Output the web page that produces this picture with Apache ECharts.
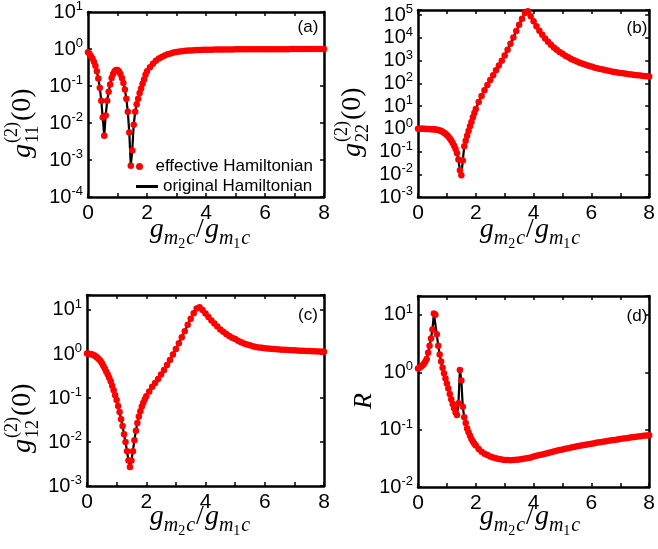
<!DOCTYPE html>
<html><head><meta charset="utf-8">
<script src="https://cdn.jsdelivr.net/npm/echarts@6/dist/echarts.min.js"></script>
<style>html,body{margin:0;padding:0;background:#fff}#c{width:658px;height:549px}</style>
</head><body><div id="c"></div>
<script>
// ---- data ----
const X = [0,0.05,0.1,0.15,0.2,0.25,0.3,0.35,0.4,0.45,0.5,0.55,0.6,0.65,0.7,0.75,0.8,0.85,0.9,0.95,
1.0,1.05,1.1,1.15,1.2,1.25,1.3,1.35,1.4,1.45,1.5,1.55,1.6,1.65,1.7,1.75,1.8,1.85,1.9,1.95,2.0,
2.1,2.2,2.3,2.4,2.5,2.6,2.7,2.8,2.9,3.0,3.1,3.2,3.3,3.4,3.5,3.6,3.7,3.8,3.9,4.0,
4.1,4.2,4.3,4.4,4.5,4.6,4.7,4.8,4.9,5.0,5.1,5.2,5.3,5.4,5.5,5.6,5.7,5.8,5.9,6.0,
6.1,6.2,6.3,6.4,6.5,6.6,6.7,6.8,6.9,7.0,7.1,7.2,7.3,7.4,7.5,7.6,7.7,7.8,7.9,8.0];

const G11 = [0.82,0.74,0.64,0.55,0.45,0.35,0.25,0.16,0.09,0.04,0.014,0.0045,0.016,0.04,0.07,0.11,0.165,0.21,0.25,0.27,
0.27,0.245,0.21,0.165,0.12,0.08,0.045,0.02,0.0055,0.0007,0.0018,0.009,0.02,0.032,0.045,0.065,0.085,0.115,0.15,0.2,0.25,
0.32,0.4,0.48,0.55,0.61,0.67,0.72,0.76,0.8,0.83,0.855,0.875,0.89,0.905,0.915,0.925,0.935,0.94,0.95,0.955,
0.958,0.961,0.964,0.966,0.968,0.97,0.972,0.974,0.976,0.977,0.978,0.98,0.981,0.982,0.983,0.984,0.985,0.986,0.987,0.988,
0.988,0.989,0.99,0.99,0.991,0.991,0.992,0.992,0.993,0.993,0.994,0.994,0.994,0.995,0.995,0.995,0.996,0.996,0.996,0.997];

const G22 = [1.0,1.0,1.0,1.0,1.0,0.995,0.99,0.985,0.98,0.97,0.96,0.95,0.93,0.91,0.88,0.85,0.8,0.75,0.68,0.61,
0.53,0.46,0.38,0.31,0.24,0.18,0.13,0.085,0.045,0.015,0.009,0.04,0.17,0.3,0.5,0.8,1.3,2.0,3.2,5.0,7.5,
15,28,50,85,140,230,380,620,1000,1700,3000,5500,10500,20000,38000,70000,125000,150000,90000,55000,
33000,21000,14000,9500,6800,5000,3800,3000,2400,2000,1650,1400,1200,1050,920,820,730,660,600,550,
505,470,435,405,380,357,337,320,304,290,277,265,254,244,235,227,220,213,207,201];

const G12 = [1.02,1.01,1.0,0.98,0.96,0.92,0.88,0.82,0.76,0.7,0.62,0.54,0.47,0.4,0.34,0.29,0.24,0.19,0.15,0.115,
0.09,0.066,0.048,0.033,0.023,0.015,0.01,0.0062,0.0038,0.0027,0.0038,0.0062,0.011,0.018,0.027,0.038,0.05,0.064,0.078,0.094,0.11,
0.14,0.18,0.22,0.27,0.34,0.43,0.56,0.73,0.97,1.3,1.75,2.4,3.3,4.6,6.3,8.4,10.8,11.6,10.0,8.3,
6.9,5.8,4.9,4.2,3.6,3.2,2.85,2.55,2.35,2.2,2.0,1.85,1.74,1.65,1.57,1.5,1.45,1.41,1.38,1.35,
1.33,1.31,1.29,1.28,1.26,1.25,1.24,1.23,1.22,1.21,1.2,1.19,1.18,1.17,1.165,1.16,1.15,1.145,1.14,1.13];

const RR = [1.17,1.2,1.25,1.31,1.4,1.52,1.7,2.2,2.9,3.9,5.6,10.6,10.1,4.6,2.9,2.05,1.55,1.2,0.96,0.78,
0.64,0.52,0.42,0.34,0.28,0.235,0.2,0.18,0.29,1.1,0.72,0.25,0.165,0.13,0.105,0.09,0.078,0.069,0.062,0.057,0.053,
0.046,0.041,0.038,0.036,0.034,0.0327,0.0316,0.0307,0.0301,0.0297,0.0295,0.0294,0.0295,0.0298,0.0302,0.0307,0.0313,0.0319,0.0327,0.034,
0.035,0.036,0.037,0.038,0.039,0.0403,0.0415,0.0427,0.044,0.0452,0.0464,0.0476,0.0488,0.05,0.0512,0.0524,0.0536,0.0548,0.0559,0.057,
0.0582,0.0594,0.0605,0.0617,0.0628,0.064,0.0651,0.0663,0.0675,0.0687,0.0698,0.071,0.0722,0.0734,0.0745,0.0757,0.0769,0.078,0.0791,0.0802];

const X_LABELS = [0,2,4,6,8];
const PANEL_TAGS = ['(a)','(b)','(c)','(d)'];
const Y_RANGES = [[1e-4,10],[1e-3,1.7e5],[1e-3,21.9],[1e-2,21.4]];
const LEGEND_NAMES = ['effective Hamiltonian','original Hamiltonian'];

// ---- layout ----
const GRIDS = [
  {left:88, top:10, width:236, height:187},
  {left:418, top:10, width:236, height:187},
  {left:87, top:295, width:237, height:191},
  {left:418, top:296, width:236, height:191}
];
const SERIES_DATA = [G11, G22, G12, RR];

const chart = echarts.init(document.getElementById('c'), null, {renderer:'canvas'});
const SANS = '"Liberation Sans", Arial, sans-serif';
const SERIF = '"Liberation Serif", "Times New Roman", serif';

const ctx = document.createElement('canvas').getContext('2d');
function tw(t, size, it){ ctx.font = (it?'italic ':'') + size + 'px ' + SERIF; return ctx.measureText(t).width; }

function mathLabel(segs, x0, y0, rot, center){
  let cur = 0; const kids = [];
  segs.forEach(seg => {
    const grp = Array.isArray(seg) ? seg : [seg];
    let w = 0;
    grp.forEach(p => {
      const dx = p.dx || 0;
      kids.push({type:'text', x: cur + dx, y: p.dy || 0, silent:true,
        style:{text:p.t, fontSize:p.s, fontFamily:SERIF, fontStyle:p.it?'italic':'normal', fill:'#000',
               align:'left', verticalAlign:'middle', textAlign:'left', textVerticalAlign:'middle'}});
      w = Math.max(w, dx + tw(p.t, p.s, p.it));
    });
    cur += w;
  });
  if (center) kids.forEach(k => { k.x -= cur/2; });
  return {type:'group', x:x0, y:y0, rotation:rot, children:kids};
}

const xTitle = [
  {t:'g',s:28,it:true},{t:'m',s:20,it:true,dy:9},{t:'2',s:14,dy:14},{t:'c',s:20,it:true,dy:9,dx:1},
  {t:'/',s:28,dx:1},
  {t:'g',s:28,it:true,dx:1},{t:'m',s:20,it:true,dy:9},{t:'1',s:14,dy:14},{t:'c',s:20,it:true,dy:9,dx:1}
];
function gTitle(sub){
  return [{t:'g',s:28,it:true},[{t:'(2)',s:18,dy:-10.5,dx:1},{t:sub,s:18,dy:10,dx:1}],{t:'(0)',s:28,dx:1}];
}

const xAxes = [], yAxes = [], series = [];
const axisLineStyle = {color:'#000', width:2.5};
const tickCfg = {show:true, inside:true, length:4, lineStyle:{color:'#000', width:1.5}};
GRIDS.forEach((g, i) => {
  const base = {type:'value', gridIndex:i, min:0, max:8, interval:1,
    axisLine:{show:true, onZero:false, lineStyle:axisLineStyle}, axisTick:tickCfg, splitLine:{show:false}};
  xAxes.push(Object.assign({}, base, {position:'bottom',
    axisLabel:{show:true, margin:6, color:'#000', fontSize:21, fontFamily:SANS,
      formatter: v => X_LABELS.indexOf(v) >= 0 ? String(v) : ''}}));
  xAxes.push(Object.assign({}, base, {position:'top', axisLabel:{show:false}}));
  const yb = {type:'log', logBase:10, gridIndex:i, min:Y_RANGES[i][0], max:Y_RANGES[i][1],
    axisLine:{show:true, onZero:false, lineStyle:axisLineStyle}, axisTick:tickCfg, splitLine:{show:false}, minorTick:{show:false}};
  yAxes.push(Object.assign({}, yb, {position:'left',
    axisLabel:{show:true, margin:5, showMaxLabel:true,
      formatter: v => { const e = Math.log10(v); if (Math.abs(e - Math.round(e)) > 1e-6) return ''; return '{b|10}{s|' + Math.round(e) + '}'; },
      rich:{ b:{fontSize:20, fontFamily:SANS, color:'#000', lineHeight:24}, s:{fontSize:13, fontFamily:SANS, color:'#000', verticalAlign:'top', lineHeight:14} }}}));
  yAxes.push(Object.assign({}, yb, {position:'right', axisLabel:{show:false}}));
  const vals = SERIES_DATA[i];
  const pts = X.map((x, k) => [x, vals[k]]);
  series.push({type:'line', name:LEGEND_NAMES[1], xAxisIndex:2*i, yAxisIndex:2*i, data:pts, showSymbol:false, symbol:'none',
    lineStyle:{color:'#000', width:2.2}, itemStyle:{color:'#000'}, z:2, animation:false});
  series.push({type:'scatter', name:LEGEND_NAMES[0], xAxisIndex:2*i, yAxisIndex:2*i, data:pts, symbol:'circle', symbolSize:6.5,
    itemStyle:{color:'#ff0000', opacity:1}, z:3, animation:false});
});

const graphics = [];
// panel tags
[[308,27],[637,28],[308,315],[637,316]].forEach((p, i) => {
  graphics.push({type:'text', x:p[0], y:p[1], silent:true,
    style:{text:PANEL_TAGS[i], fontSize:17, fontFamily:SANS, fill:'#000', align:'center', verticalAlign:'middle', textAlign:'center', textVerticalAlign:'middle'}});
});
// x titles
[[200,230],[530,230],[200,517],[530,517]].forEach(p => graphics.push(mathLabel(xTitle, p[0], p[1], 0, true)));
// y titles
graphics.push(mathLabel(gTitle('11'), 23, 158, Math.PI/2, false));
graphics.push(mathLabel(gTitle('22'), 353, 157, Math.PI/2, false));
graphics.push(mathLabel(gTitle('12'), 23, 453, Math.PI/2, false));
graphics.push(mathLabel([{t:'R',s:26,it:true}], 364, 409, Math.PI/2, false));

const legendText = {fontSize:17, fontFamily:SANS, color:'#000'};
chart.setOption({
  animation:false,
  backgroundColor:'#fff',
  grid: GRIDS,
  xAxis: xAxes,
  yAxis: yAxes,
  legend: [
    {data:[{name:LEGEND_NAMES[0], icon:'circle'}], left:136, top:158, itemWidth:22, itemHeight:7, itemGap:0, selectedMode:false, textStyle:legendText, padding:0},
    {data:[{name:LEGEND_NAMES[1], icon:'rect'}], left:136, top:178, itemWidth:22, itemHeight:3, itemGap:0, selectedMode:false, textStyle:legendText, padding:0}
  ],
  series: series,
  graphic: graphics
});
</script></body></html>
